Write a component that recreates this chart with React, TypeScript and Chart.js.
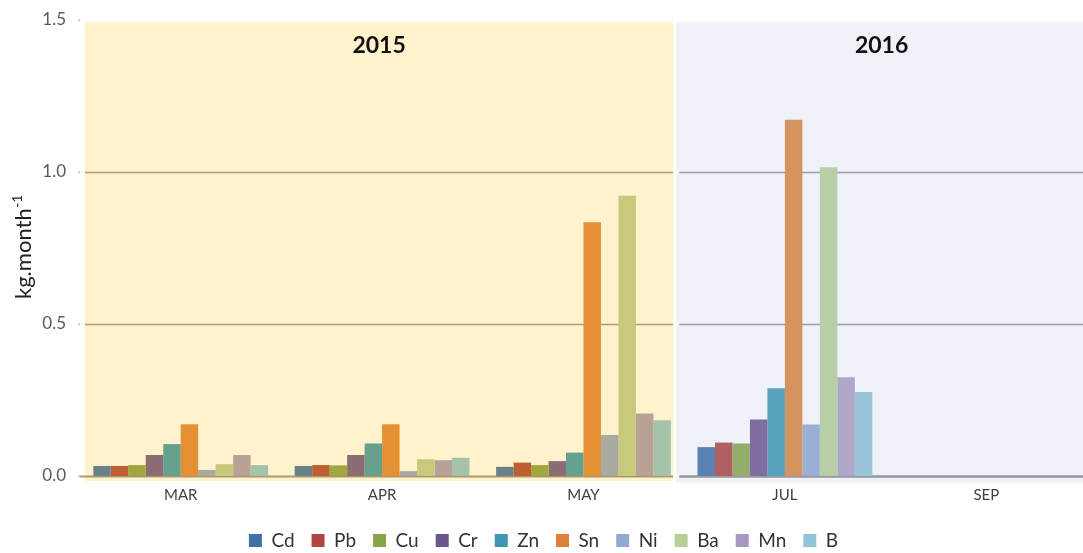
import React, { useEffect, useRef } from "react";
import { Chart, registerables } from "chart.js";

Chart.register(...registerables);

const categories = ["MAR", "APR", "MAY", "JUL", "SEP"];
const metals = ["Cd", "Pb", "Cu", "Cr", "Zn", "Sn", "Ni", "Ba", "Mn", "B"];

const cd = [0.033, 0.033, 0.03, 0.095, null];
const pb = [0.033, 0.036, 0.044, 0.11, null];
const cu = [0.036, 0.035, 0.036, 0.107, null];
const cr = [0.069, 0.069, 0.049, 0.186, null];
const zn = [0.105, 0.107, 0.077, 0.289, null];
const sn = [0.17, 0.17, 0.835, 1.172, null];
const ni = [0.02, 0.016, 0.135, 0.169, null];
const ba = [0.039, 0.055, 0.922, 1.016, null];
const mn = [0.069, 0.052, 0.206, 0.325, null];
const bo = [0.036, 0.06, 0.183, 0.276, null];
const series = [cd, pb, cu, cr, zn, sn, ni, ba, mn, bo];

const yTicks = [0, 0.5, 1.0, 1.5];
const yearLabels = ["2015", "2016"];
const yTitle = "kg.month";
const yTitleSup = "-1";

const colors2015 = ["#6A808A", "#BF5E32", "#9FA73E", "#8C6D73", "#66A08E", "#E49033", "#A9AAA0", "#C6CA7A", "#B8A298", "#A4C3A9"];
const colors2016 = ["#5A80B4", "#B06060", "#93AE6A", "#7F6CA0", "#58A3BC", "#D5935E", "#9AAFD6", "#B8CEA6", "#AFA6C8", "#98C5DA"];
const legendColors = ["#4170A8", "#B04545", "#86A44A", "#6D5590", "#3E97AF", "#E08038", "#93A9D2", "#B7CE96", "#A897C0", "#93C3D8"];

const FONT = 'Lato, "Open Sans", sans-serif';

const regionsPlugin = {
  id: "regions",
  beforeDatasetsDraw(chart: any) {
    const { ctx, chartArea, scales } = chart;
    const xs = scales.x;
    const ys = scales.y;
    const boundary = (xs.getPixelForValue(2) + xs.getPixelForValue(3)) / 2;
    const base = ys.getPixelForValue(0);
    const top = chartArea.top + 2.3;
    const yl = chartArea.left + 5;
    const yr = boundary - 11;
    const bl = boundary - 8;
    const br = chartArea.right;
    ctx.save();
    ctx.fillStyle = "#FFF2CC";
    ctx.fillRect(yl, top, yr - yl, base + 5 - top);
    ctx.fillStyle = "#EFF3F9";
    ctx.fillRect(bl, top, br - bl, base + 6.5 - top);

    const gl = [0.5, 1.0];
    gl.forEach((v) => {
      const y = Math.round(ys.getPixelForValue(v)) + 0.5;
      ctx.lineWidth = 1.5;
      ctx.strokeStyle = "#A99B78";
      ctx.beginPath();
      ctx.moveTo(yl, y);
      ctx.lineTo(yr, y);
      ctx.stroke();
      ctx.strokeStyle = "#9B9EA4";
      ctx.beginPath();
      ctx.moveTo(bl + 3, y);
      ctx.lineTo(br, y);
      ctx.stroke();
    });
    ctx.lineWidth = 2;
    ctx.strokeStyle = "#A89A70";
    ctx.beginPath();
    ctx.moveTo(yl - 5, base + 0.5);
    ctx.lineTo(yr, base + 0.5);
    ctx.stroke();
    ctx.lineWidth = 2.5;
    ctx.strokeStyle = "#959799";
    ctx.beginPath();
    ctx.moveTo(bl + 3, base + 0.5);
    ctx.lineTo(br, base + 0.5);
    ctx.stroke();

    ctx.fillStyle = "#BBBBBB";
    yTicks.forEach((v) => {
      const y = ys.getPixelForValue(v);
      ctx.fillRect(chartArea.left - 2, y - 0.5, 2, 1.5);
    });

    ctx.fillStyle = "#111111";
    ctx.font = `bold 23px ${FONT}`;
    ctx.textAlign = "center";
    ctx.textBaseline = "middle";
    ctx.fillText(yearLabels[0], (yl + yr) / 2, 46);
    ctx.fillText(yearLabels[1], (bl + br) / 2, 46);
    ctx.restore();
  },
  afterDraw(chart: any) {
    const { ctx } = chart;
    ctx.save();
    ctx.translate(31, 247);
    ctx.rotate(-Math.PI / 2);
    ctx.fillStyle = "#222222";
    ctx.textBaseline = "alphabetic";
    ctx.textAlign = "left";
    ctx.font = `22px ${FONT}`;
    const w1 = ctx.measureText(yTitle).width;
    ctx.font = `14px ${FONT}`;
    const w2 = ctx.measureText(yTitleSup).width;
    const start = -(w1 + w2) / 2;
    ctx.font = `22px ${FONT}`;
    ctx.fillText(yTitle, start, 0);
    ctx.font = `14px ${FONT}`;
    ctx.fillText(yTitleSup, start + w1 + 0.5, -9);
    ctx.restore();
  },
};

export default function App() {
  const ref = useRef<HTMLCanvasElement>(null);
  useEffect(() => {
    if (!ref.current) return;
    const chart = new Chart(ref.current, {
      type: "bar",
      data: {
        labels: categories,
        datasets: metals.map((m, i) => ({
          label: m,
          data: series[i],
          backgroundColor: categories.map((_, j) => (j < 3 ? colors2015[i] : colors2016[i])),
          borderWidth: 0,
          categoryPercentage: 0.868,
          barPercentage: 1,
        })),
      },
      options: {
        responsive: false,
        animation: false,
        devicePixelRatio: 1,
        layout: { padding: { left: 0, right: 5, top: 20, bottom: 0 } },
        plugins: {
          tooltip: { enabled: false },
          title: { display: false },
          legend: {
            display: true,
            position: "bottom",
            labels: {
              boxWidth: 13,
              boxHeight: 13,
              padding: 17,
              color: "#333333",
              font: { size: 19, family: FONT },
              generateLabels: (c: any) =>
                c.data.datasets.map((ds: any, i: number) => ({
                  text: ds.label,
                  fillStyle: legendColors[i],
                  strokeStyle: legendColors[i],
                  lineWidth: 0,
                  hidden: false,
                  datasetIndex: i,
                  fontColor: "#333333",
                })),
            },
          },
        },
        scales: {
          x: {
            grid: { display: false, drawTicks: false },
            border: { display: false },
            ticks: { color: "#404040", padding: 10, font: { size: 15, family: FONT } },
            afterFit: (s: any) => {
              s.height = 38;
            },
          },
          y: {
            min: 0,
            max: 1.5,
            grid: { display: false, drawTicks: false },
            border: { display: false },
            afterBuildTicks: (s: any) => {
              s.ticks = yTicks.map((v) => ({ value: v }));
            },
            ticks: {
              color: "#595959",
              padding: 14,
              font: { size: 17, family: FONT },
              callback: (v: any) => Number(v).toFixed(1),
            },
            afterFit: (s: any) => {
              s.width = 80;
              s.paddingTop = 0;
              s.paddingBottom = 0;
            },
          },
        },
      },
      plugins: [regionsPlugin],
    });
    return () => chart.destroy();
  }, []);

  return (
    <div style={{ position: "fixed", left: 0, top: 0, width: 1083, height: 553, overflow: "hidden", background: "#fff" }}>
      <canvas ref={ref} width={1092} height={560} style={{ display: "block", width: 1092, height: 560 }} />
    </div>
  );
}
